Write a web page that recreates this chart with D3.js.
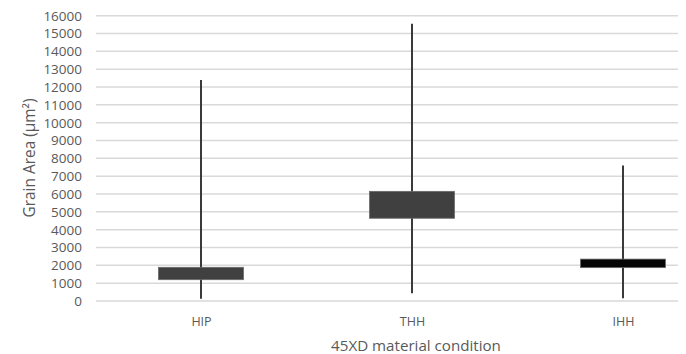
<!DOCTYPE html>
<html>
<head>
<meta charset="utf-8">
<script src="https://cdn.jsdelivr.net/npm/d3@7"></script>
<style>
  html, body { margin: 0; padding: 0; background: #fff; }
  svg { display: block; font-family: "Open Sans", "Liberation Sans", sans-serif; }
</style>
</head>
<body>
<svg id="chart" width="686" height="354"></svg>
<script>
// Grain area spread per material condition (high-low whiskers, open-close boxes)
const categories = ["HIP", "THH", "IHH"];
const highValues = [12400, 15550, 7600];
const lowValues  = [130, 430, 150];
const boxTop     = [1890, 6150, 2350];
const boxBottom  = [1195, 4640, 1870];
const boxFills   = ["#404040", "#404040", "#050505"];
const yTicks = d3.range(0, 16001, 1000);

const svg = d3.select("#chart");
const plot = { left: 96, right: 678, top: 15.7, bottom: 301 };

const y = d3.scaleLinear().domain([0, 16000]).range([plot.bottom, plot.top]);
const x = d3.scalePoint().domain(categories).range([201, 623]);
const boxWidth = 85;

// horizontal gridlines
svg.append("g")
  .selectAll("line")
  .data(yTicks)
  .join("line")
  .attr("x1", plot.left).attr("x2", plot.right)
  .attr("y1", d => y(d)).attr("y2", d => y(d))
  .attr("stroke", "#d9d9d9").attr("stroke-width", 1.5);

// y axis labels
const yAxis = d3.axisLeft(y).tickValues(yTicks).tickSize(0).tickPadding(0).tickFormat(d3.format("d"));
svg.append("g")
  .attr("transform", `translate(82,0)`)
  .call(yAxis)
  .call(g => g.select(".domain").remove())
  .call(g => g.selectAll("text")
    .attr("fill", "#595959")
    .attr("font-size", "13.5px")
    .attr("font-family", "'Open Sans', sans-serif"));

// category labels
const xAxis = d3.axisBottom(x).tickSize(0).tickPadding(0);
svg.append("g")
  .attr("transform", `translate(0,317)`)
  .call(xAxis)
  .call(g => g.select(".domain").remove())
  .call(g => g.selectAll("text")
    .attr("fill", "#595959")
    .attr("font-size", "12.5px")
    .attr("font-family", "'Open Sans', sans-serif"));

const idx = categories.map((c, i) => i);

// whiskers
svg.append("g")
  .selectAll("line")
  .data(idx)
  .join("line")
  .attr("x1", i => x(categories[i])).attr("x2", i => x(categories[i]))
  .attr("y1", i => y(highValues[i])).attr("y2", i => y(lowValues[i]))
  .attr("stroke", "#3a3a3a").attr("stroke-width", 2);

// boxes
svg.append("g")
  .selectAll("rect")
  .data(idx)
  .join("rect")
  .attr("x", i => x(categories[i]) - boxWidth / 2)
  .attr("width", boxWidth)
  .attr("y", i => y(boxTop[i]))
  .attr("height", i => y(boxBottom[i]) - y(boxTop[i]))
  .attr("fill", i => boxFills[i])
  .attr("stroke", "#6b6b6b").attr("stroke-width", 0.8);

// fit a text element's font size so it spans the given length
function fitText(sel, length) {
  const w = sel.node().getComputedTextLength();
  const fs = parseFloat(sel.attr("font-size"));
  sel.attr("font-size", (fs * length / w).toFixed(2) + "px");
}

// axis titles
const xTitle = svg.append("text")
  .attr("x", 416).attr("y", 351)
  .attr("text-anchor", "middle")
  .attr("fill", "#595959")
  .attr("font-size", "14px")
  .text("45XD material condition");
fitText(xTitle, 170);

const yTitle = svg.append("text")
  .attr("transform", "translate(35,158) rotate(-90)")
  .attr("text-anchor", "middle")
  .attr("fill", "#595959")
  .attr("font-size", "14px")
  .text("Grain Area (μm²)");
fitText(yTitle, 119);
</script>
</body>
</html>
